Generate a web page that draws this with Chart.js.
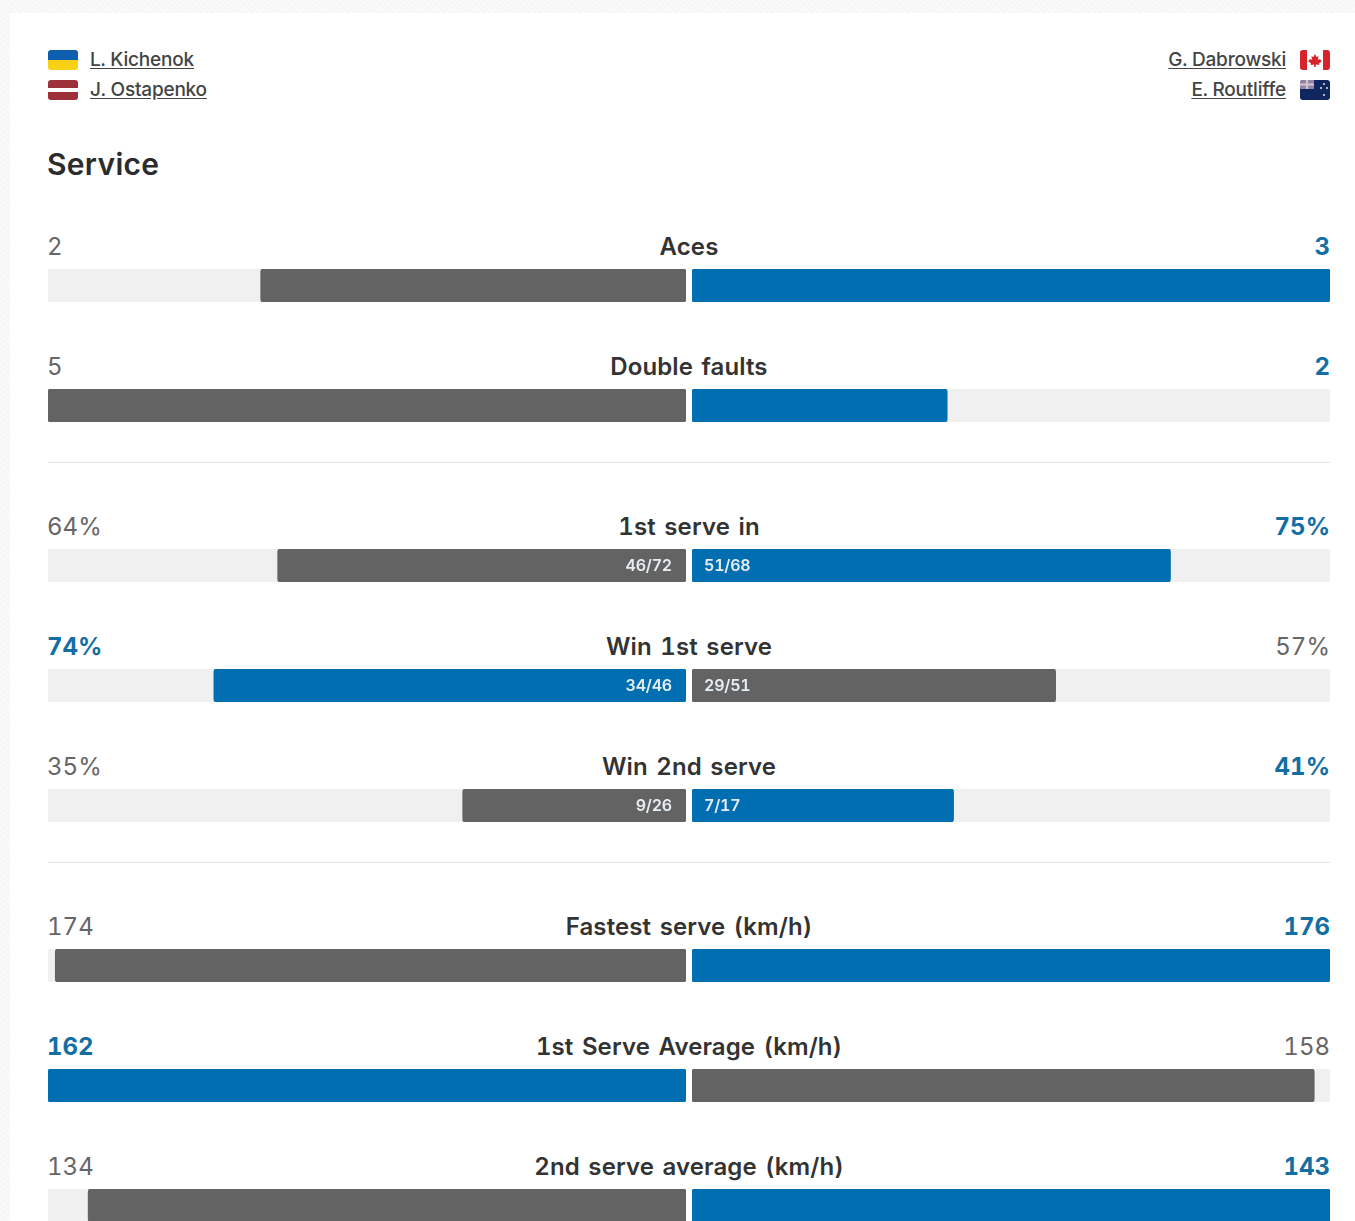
<!DOCTYPE html>
<html>
<head>
<meta charset="utf-8">
<title>Service</title>
<script src="https://cdn.jsdelivr.net/npm/chart.js@4"></script>
<style>
  html, body { margin: 0; height: 100%; overflow: hidden; }
  body {
    font-family: Inter, "Noto Sans", sans-serif;
    font-feature-settings: "tnum";
    color: #333;
    width: 1355px;
    height: 1221px;
    position: relative;
    background: repeating-linear-gradient(45deg, #f6f6f6 0 2px, #fafafa 2px 4px);
  }
  .card { position: absolute; left: 10px; top: 13px; right: 0; bottom: 0; background: #fff; }
  .players { position: absolute; top: 44px; left: 48px; width: 1282px; height: 60px; font-size: 19px; font-weight: 500; letter-spacing: -0.2px; }
  .player { position: absolute; height: 20px; line-height: 20px; display: flex; align-items: center; gap: 12px; color: #444; }
  .player u { text-underline-offset: 2px; }
  .player.l { left: 0; }
  .player.r { right: 0; gap: 14px; }
  .player svg { display: block; border-radius: 3px; }
  h2 { position: absolute; left: 47px; top: 145px; margin: 0; font-size: 30px; line-height: 38px; font-weight: 600; color: #2c2c2c; letter-spacing: 0.3px; }
  .rows { position: absolute; left: 48px; top: 230px; width: 1282px; }
  .row { height: 119.7px; position: relative; }
  .row.first-of-group { margin-top: 41px; }
  .head { height: 34px; line-height: 34px; font-size: 24px; position: relative; text-align: center; font-weight: 600; letter-spacing: 0.1px; word-spacing: 2px; }
  .head .val { position: absolute; top: 0; left: auto; font-weight: 400; color: #666; letter-spacing: 0; }
  .head .val.win { font-weight: 700; color: #136fa3; }
  .head .left { left: -1px; }
  .head .right { right: 0; }
  .bars { position: absolute; top: 39px; left: 0; width: 1282px; height: 33px; }
  .side { position: absolute; top: 0; width: 638px; height: 33px; }
  .side.left { left: 0; }
  .side.right { right: 0; }
  .side canvas { display: block; }
  .detail { position: absolute; top: 0; line-height: 33px; font-size: 16px; font-weight: 600; color: #e6eef3; letter-spacing: -0.2px; }
  .side.left .detail { right: 14px; }
  .side.right .detail { left: 12px; }
  .rule { position: absolute; left: 48px; width: 1282px; height: 1px; background: #e4e4e4; }
</style>
</head>
<body>
<div class="card"></div>

<div class="players">
  <div class="player l" style="top:6px">
    <svg width="30" height="20"><rect width="30" height="10" fill="#0d5eaf"/><rect y="10" width="30" height="10" fill="#f7d116"/></svg>
    <u id="playerL1"></u>
  </div>
  <div class="player l" style="top:36px">
    <svg width="30" height="20"><rect width="30" height="20" fill="#9e3039"/><rect y="8" width="30" height="4" fill="#fff"/></svg>
    <u id="playerL2"></u>
  </div>
  <div class="player r" style="top:6px">
    <u id="playerR1"></u>
    <svg width="30" height="20"><rect width="30" height="20" fill="#fff"/><rect width="7" height="20" fill="#d8232a"/><rect x="23" width="7" height="20" fill="#d8232a"/><path d="M15 4l1.6 3 2-.8-.8 3.6 2.4-.8.6 1.6 1.2.4-3 2.4.4 1.6-3.6-.4V17h-1.6v-2.4l-3.6.4.4-1.6-3-2.4 1.2-.4.6-1.6 2.4.8-.8-3.6 2 .8z" fill="#d8232a"/></svg>
  </div>
  <div class="player r" style="top:36px">
    <u id="playerR2"></u>
    <svg width="30" height="20"><rect width="30" height="20" fill="#10265f"/><rect width="14" height="9" fill="#8f86a8"/><path d="M0 4.5h14M7 0v9" stroke="#d9c3cf" stroke-width="2"/><circle cx="24" cy="4" r="1" fill="#e8dfe6"/><circle cx="21" cy="8" r="1" fill="#e8dfe6"/><circle cx="27" cy="8" r="1" fill="#e8dfe6"/><circle cx="24" cy="15" r="1" fill="#e8dfe6"/></svg>
  </div>
</div>

<h2>Service</h2>
<div class="rule" style="top:462px"></div>
<div class="rule" style="top:862px"></div>
<div class="rows" id="rows"></div>

<script>
// ========================
// DATA
// ========================
const playersLeft = ["L. Kichenok", "J. Ostapenko"];
const playersRight = ["G. Dabrowski", "E. Routliffe"];

const statLabels = [
  "Aces", "Double faults", "1st serve in", "Win 1st serve", "Win 2nd serve",
  "Fastest serve (km/h)", "1st Serve Average (km/h)", "2nd serve average (km/h)"
];
const leftValues = [2, 5, 64, 74, 35, 174, 162, 134];
const rightValues = [3, 2, 75, 57, 41, 176, 158, 143];
const axisMax = [3, 5, 100, 100, 100, 176, 162, 143];
const valueUnits = ["", "", "%", "%", "%", "", "", ""];
const leftDetails = ["", "", "46/72", "34/46", "9/26", "", "", ""];
const rightDetails = ["", "", "51/68", "29/51", "7/17", "", "", ""];
const winners = ["right", "right", "right", "left", "right", "right", "left", "right"];
const groupStarts = [2, 5];

const BLUE = "#006eb0";
const GREY = "#636363";
const TRACK = "#f0f0f0";

// ========================
// BAR RENDER
// ========================
function renderBar(canvas, value, max, color, reversed) {
  new Chart(canvas, {
    type: "bar",
    data: {
      labels: [""],
      datasets: [
        { data: [value], backgroundColor: color, order: 1 },
        { data: [max], backgroundColor: TRACK, order: 2 }
      ]
    },
    options: {
      indexAxis: "y",
      responsive: false,
      animation: false,
      grouped: false,
      barPercentage: 1,
      categoryPercentage: 1,
      borderRadius: 3,
      borderSkipped: false,
      layout: { padding: 0 },
      plugins: {
        legend: { display: false },
        tooltip: { enabled: false }
      },
      scales: {
        x: { display: false, min: 0, max: max, reverse: reversed },
        y: { display: false }
      }
    }
  });
}

function buildSide(name, detail) {
  const side = document.createElement("div");
  side.className = "side " + name;
  const canvas = document.createElement("canvas");
  canvas.width = 638;
  canvas.height = 33;
  side.appendChild(canvas);
  if (detail) {
    const tag = document.createElement("span");
    tag.className = "detail";
    tag.textContent = detail;
    side.appendChild(tag);
  }
  return { side, canvas };
}

// ========================
// PAGE
// ========================
document.getElementById("playerL1").textContent = playersLeft[0];
document.getElementById("playerL2").textContent = playersLeft[1];
document.getElementById("playerR1").textContent = playersRight[0];
document.getElementById("playerR2").textContent = playersRight[1];

const rowsEl = document.getElementById("rows");

statLabels.forEach((label, i) => {
  const row = document.createElement("div");
  row.className = "row" + (groupStarts.includes(i) ? " first-of-group" : "");

  const head = document.createElement("div");
  head.className = "head";
  head.textContent = label;

  const leftVal = document.createElement("span");
  leftVal.className = "val left" + (winners[i] === "left" ? " win" : "");
  leftVal.textContent = leftValues[i] + valueUnits[i];
  const rightVal = document.createElement("span");
  rightVal.className = "val right" + (winners[i] === "right" ? " win" : "");
  rightVal.textContent = rightValues[i] + valueUnits[i];
  head.append(leftVal, rightVal);

  const bars = document.createElement("div");
  bars.className = "bars";
  const left = buildSide("left", leftDetails[i]);
  const right = buildSide("right", rightDetails[i]);
  bars.append(left.side, right.side);

  row.append(head, bars);
  rowsEl.appendChild(row);

  renderBar(left.canvas, leftValues[i], axisMax[i], winners[i] === "left" ? BLUE : GREY, true);
  renderBar(right.canvas, rightValues[i], axisMax[i], winners[i] === "right" ? BLUE : GREY, false);
});
</script>
</body>
</html>
